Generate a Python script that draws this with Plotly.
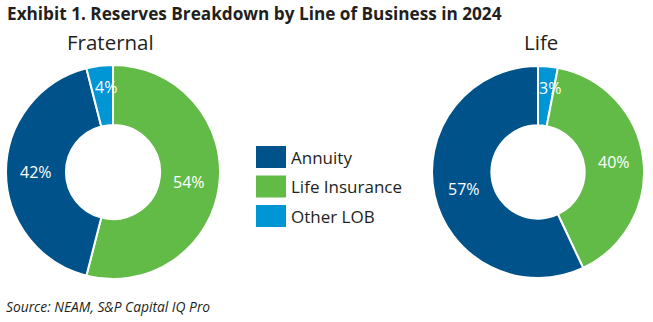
import math
import plotly.graph_objects as go

categories = ["Annuity", "Life Insurance", "Other LOB"]
colors = {"Annuity": "#00538A", "Life Insurance": "#62BB46", "Other LOB": "#0096D6"}

fraternal_order = ["Life Insurance", "Annuity", "Other LOB"]
fraternal_values = [54, 42, 4]

life_order = ["Other LOB", "Life Insurance", "Annuity"]
life_values = [3, 40, 57]

W, H = 653, 322
FONT = "Open Sans"
HOLE = 0.44
TXT = "#231F20"

def px_dom(x0, x1, y0, y1):
    return dict(x=[x0 / W, x1 / W], y=[1 - y1 / H, 1 - y0 / H])

fig = go.Figure()
ann = []
for labels, vals, box in [
    (fraternal_order, fraternal_values, (6, 220, 65, 279)),
    (life_order, life_values, (432, 644, 66, 278)),
]:
    fig.add_trace(go.Pie(
        labels=labels, values=vals, sort=False, direction="clockwise", rotation=0,
        hole=HOLE, domain=px_dom(*box),
        marker=dict(colors=[colors[l] for l in labels], line=dict(color="white", width=2)),
        textinfo="none", showlegend=False, hoverinfo="label+value",
    ))
    # value labels placed in the middle of each ring segment
    cx = (box[0] + box[1]) / 2
    cy = (box[2] + box[3]) / 2
    r_out = min(box[1] - box[0], box[3] - box[2]) / 2
    r_mid = r_out * (1 + HOLE) / 2
    total = sum(vals)
    cum = 0
    for v in vals:
        frac = v / total
        a = 2 * math.pi * (cum + frac / 2)
        cum += frac
        small = frac < 0.1
        rr = r_out * 0.8 if small else r_mid
        x = cx + rr * math.sin(a) + (4 if small else 0)
        y = cy - rr * math.cos(a)
        ann.append(dict(text=f"{v}%", x=x / W, y=1 - y / H, xanchor="center", yanchor="middle",
                        font=dict(family=FONT, size=16, color="white")))

ann += [
    dict(text="<b>Exhibit 1. Reserves Breakdown by Line of Business in 2024</b>", x=5 / W, y=1 - 14 / H,
         xanchor="left", yanchor="middle", font=dict(family=FONT, size=17.2, color=TXT)),
    dict(text="Fraternal", x=111 / W, y=1 - 42 / H, xanchor="center", yanchor="middle",
         font=dict(family=FONT, size=20.5, color=TXT)),
    dict(text="Life", x=541 / W, y=1 - 42 / H, xanchor="center", yanchor="middle",
         font=dict(family=FONT, size=20.5, color=TXT)),
    dict(text="<i>Source: NEAM, S&P Capital IQ Pro</i>", x=4 / W, y=1 - 306 / H, xanchor="left",
         yanchor="middle", font=dict(family=FONT, size=13.8, color=TXT)),
]
shapes = []
for i, c in enumerate(categories):
    yc = 157 + i * 29.5
    shapes.append(dict(type="rect", xref="paper", yref="paper", x0=256 / W, x1=286 / W,
                       y0=1 - (yc + 11) / H, y1=1 - (yc - 11) / H,
                       fillcolor=colors[c], line=dict(width=0)))
    ann.append(dict(text=c, x=289 / W, y=1 - yc / H, xanchor="left", yanchor="middle",
                    font=dict(family=FONT, size=17, color=TXT)))

fig.update_layout(width=W, height=H, margin=dict(l=0, r=0, t=0, b=0),
                  paper_bgcolor="white", plot_bgcolor="white",
                  annotations=[dict(a, xref="paper", yref="paper", showarrow=False) for a in ann],
                  shapes=shapes)
fig.write_html("out.html")
